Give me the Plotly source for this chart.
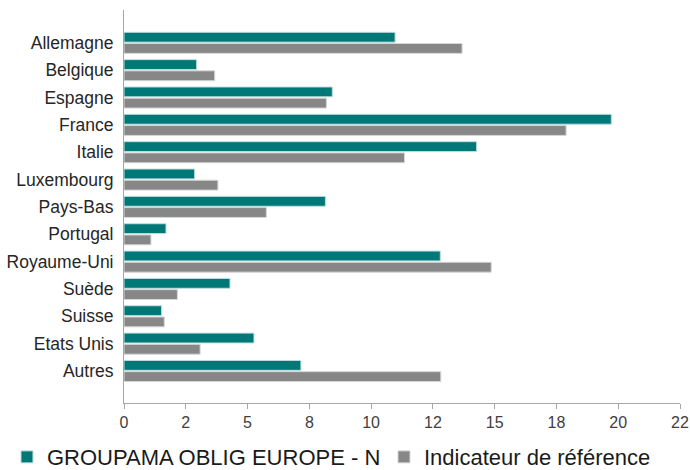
import plotly.graph_objects as go

categories = ["Allemagne", "Belgique", "Espagne", "France", "Italie", "Luxembourg",
              "Pays-Bas", "Portugal", "Royaume-Uni", "Suède", "Suisse", "Etats Unis", "Autres"]
fund = [10.97, 2.94, 8.43, 19.72, 14.27, 2.86, 8.15, 1.70, 12.80, 4.29, 1.52, 5.26, 7.16]
benchmark = [13.68, 3.67, 8.19, 17.89, 11.35, 3.80, 5.76, 1.09, 14.86, 2.16, 1.63, 3.08, 12.82]
series_names = ["GROUPAMA OBLIG EUROPE - N", "Indicateur de référence"]
tick_vals = [0, 2.5, 5, 7.5, 10, 12.5, 15, 17.5, 20, 22.5]
tick_text = ["0", "2", "5", "8", "10", "12", "15", "18", "20", "22"]

TEAL = "#007878"
GRAY = "#878787"
FONT = "Liberation Sans, Arial, sans-serif"

fig = go.Figure()
fig.add_trace(go.Bar(y=categories, x=fund, orientation="h", name=series_names[0],
                     legend="legend",
                     marker=dict(color=TEAL, line=dict(color="#bfdede", width=1))))
fig.add_trace(go.Bar(y=categories, x=benchmark, orientation="h", name=series_names[1],
                     legend="legend2",
                     marker=dict(color=GRAY, line=dict(color="#d6d6d6", width=1))))

legend_common = dict(orientation="h", xref="container", yref="container",
                     y=0.0275, xanchor="left", yanchor="middle",
                     font=dict(size=22, color="#1a1a1a"), itemwidth=30,
                     bgcolor="rgba(0,0,0,0)")

fig.update_layout(
    width=690, height=470,
    margin=dict(l=124, r=10, t=10, b=67, autoexpand=False),
    paper_bgcolor="white", plot_bgcolor="white",
    barmode="group", bargap=0.18, bargroupgap=0.12,
    font=dict(family=FONT, size=16, color="#333333"),
    showlegend=True,
    legend=dict(x=0.0101, **legend_common),
    legend2=dict(x=0.5565, **legend_common),
    xaxis=dict(range=[0, 22.5], tickvals=tick_vals, ticktext=tick_text,
               automargin=False,
               showgrid=False, zeroline=False, showline=True, linecolor="#a6a6a6",
               linewidth=1, ticks="outside", ticklen=5, tickcolor="#a6a6a6",
               tickfont=dict(size=16, color="#404040")),
    yaxis=dict(categoryorder="array", categoryarray=categories, automargin=False,
               range=[13.17, -1.2], showgrid=False, zeroline=False,
               showline=True, linecolor="#a6a6a6", linewidth=1, ticks="",
               ticklabelstandoff=6,
               tickfont=dict(size=17.5, color="#262626")),
)

fig.write_html("out.html", config={"displayModeBar": False},
               post_script="document.body.style.margin='0';")
